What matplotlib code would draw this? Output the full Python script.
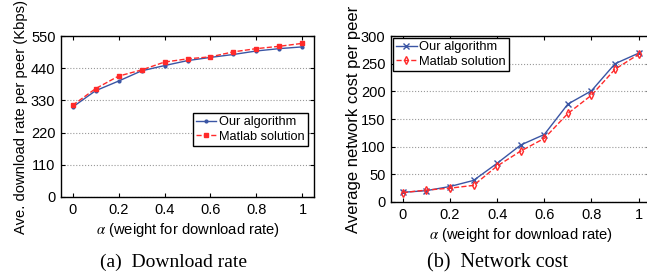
import numpy as np
import matplotlib
matplotlib.use("Agg")
import matplotlib.pyplot as plt

# ==== Data ====
alpha = [0, 0.1, 0.2, 0.3, 0.4, 0.5, 0.6, 0.7, 0.8, 0.9, 1.0]

rate_ours = [307, 363, 396, 431, 449, 466, 477, 487, 499, 507, 513]
rate_matlab = [313, 370, 413, 434, 461, 472, 479, 496, 507, 515, 525]

cost_ours = [17.5, 20.5, 28, 39, 70, 103, 122, 177, 201, 250, 269]
cost_matlab = [17, 21.5, 25, 30, 65, 92, 115, 160, 193, 240, 267]

rate_ticks = [0, 110, 220, 330, 440, 550]
cost_ticks = [0, 50, 100, 150, 200, 250, 300]
alpha_ticks = [0, 0.2, 0.4, 0.6, 0.8, 1]

blue = "#3a55a4"
red = "#ff2a2a"

plt.rcParams['font.family'] = ['Liberation Sans', 'DejaVu Sans']
plt.rcParams['mathtext.fontset'] = 'stix'


def style_axes(ax, yticks, ylim):
    ax.set_xlim(-0.05, 1.05)
    ax.set_ylim(*ylim)
    ax.set_xticks(alpha_ticks)
    ax.set_xticklabels(["0", "0.2", "0.4", "0.6", "0.8", "1"])
    ax.set_yticks(yticks)
    ax.tick_params(direction='in', top=True, right=True, labelsize=10.5,
                   length=3, width=0.8, pad=4)
    ax.yaxis.grid(True, linestyle=':', color='#999999', linewidth=0.8)
    for sp in ax.spines.values():
        sp.set_linewidth(1.0)
    ax.set_xlabel(r"$\alpha$ (weight for download rate)", fontsize=10.6, labelpad=3)


fig = plt.figure(figsize=(6.47, 2.78), dpi=100)

# ==== (a) Download rate ====
ax1 = fig.add_axes([0.0943, 0.2914, 0.391, 0.579])
ax1.plot(alpha, rate_ours, '-', color=blue, marker='.', markersize=4,
         linewidth=1.0, label="Our algorithm")
ax1.plot(alpha, rate_matlab, '--', color=red, marker='s', markersize=3,
         linewidth=1.0, label="Matlab solution")
style_axes(ax1, rate_ticks, (0, 550))
ax1.set_ylabel("Ave. download rate per peer (Kbps)", fontsize=10.6, labelpad=2)
ax1.legend(loc='center right', bbox_to_anchor=(0.985, 0.42), fontsize=9.2,
           fancybox=False, framealpha=1, edgecolor='black', borderpad=0.25,
           handlelength=1.6, handletextpad=0.2, labelspacing=0.2,
           borderaxespad=0.2)

# ==== (b) Network cost ====
ax2 = fig.add_axes([0.6043, 0.2734, 0.401, 0.597])
ax2.plot(alpha, cost_ours, '-', color=blue, marker='x', markersize=4,
         linewidth=1.0, label="Our algorithm")
ax2.plot(alpha, cost_matlab, '--', color=red, marker='d', markersize=4,
         markerfacecolor='none', markeredgewidth=1.0, linewidth=1.0,
         label="Matlab solution")
style_axes(ax2, cost_ticks, (0, 300))
ax2.set_ylabel("Average network cost per peer", fontsize=12, labelpad=0)
ax2.legend(loc='upper left', fontsize=9.3, fancybox=False, framealpha=1,
           edgecolor='black', borderpad=0.25, handlelength=1.6,
           handletextpad=0.2, labelspacing=0.2, borderaxespad=0.15)

# ==== Captions ====
fig.text(0.268, 0.055, "(a)  Download rate", fontsize=14,
         family=['Liberation Serif', 'DejaVu Serif'], ha='center', va='center')
fig.text(0.769, 0.055, "(b)  Network cost", fontsize=14.5,
         family=['Liberation Serif', 'DejaVu Serif'], ha='center', va='center')

fig.savefig("out.png", dpi=100)
